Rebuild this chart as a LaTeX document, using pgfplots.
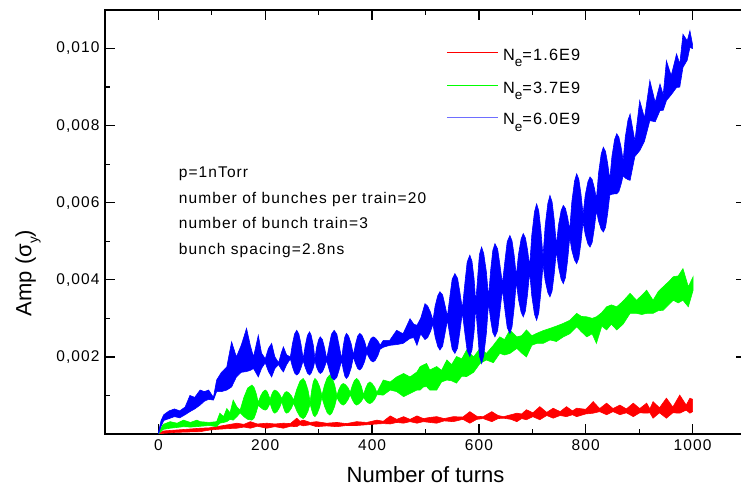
\documentclass[border=0pt]{standalone}
\usepackage{fontspec}
\setmainfont{Liberation Sans}
\newfontfamily\spaced[LetterSpace=7]{Liberation Sans}
\usepackage{pgfplots}
\usepackage{pgfplotstable}
\usepgfplotslibrary{fillbetween}
\pgfplotsset{compat=1.18}

\definecolor{cred}{RGB}{255,0,0}
\definecolor{cgreen}{RGB}{0,255,0}
\definecolor{cblue}{RGB}{0,0,255}
\definecolor{cbluelight}{RGB}{110,110,255}

% lowered subscript as in the original plotting program
\newcommand\lsub[2]{\raisebox{-#2}{\fontsize{13.5}{14}\selectfont #1}}

% envelopes of the oscillation amplitude, in units of 1e-3 sigma_y
% columns: turn, lower edge, upper edge
\pgfplotstableread{
t lo hi
0 0.0 0.02
10 0.02 0.08
30 0.04 0.10
50 0.05 0.12
78 0.06 0.15
95 0.10 0.16
109 0.12 0.19
130 0.14 0.24
147 0.15 0.28
160 0.18 0.25
172 0.15 0.32
185 0.20 0.26
203 0.15 0.28
218 0.19 0.26
234 0.15 0.28
247 0.20 0.27
259 0.19 0.41
265 0.24 0.33
271 0.21 0.36
284 0.24 0.30
296 0.19 0.32
315 0.21 0.28
334 0.19 0.30
352 0.22 0.27
371 0.22 0.32
390 0.24 0.30
409 0.26 0.36
421 0.27 0.33
434 0.26 0.47
446 0.30 0.38
459 0.28 0.45
471 0.32 0.38
484 0.28 0.47
496 0.32 0.40
508 0.30 0.43
521 0.28 0.45
535 0.34 0.40
552 0.32 0.45
570 0.38 0.44
583 0.28 0.58
596 0.38 0.46
608 0.40 0.45
624 0.32 0.58
636 0.40 0.48
646 0.41 0.45
660 0.38 0.50
671 0.32 0.54
680 0.40 0.52
689 0.37 0.63
701 0.45 0.55
714 0.37 0.71
727 0.48 0.56
739 0.41 0.67
752 0.48 0.58
764 0.45 0.71
775 0.50 0.60
783 0.45 0.67
800 0.52 0.64
814 0.54 0.84
826 0.58 0.66
839 0.50 0.80
851 0.58 0.66
864 0.50 0.75
876 0.55 0.65
889 0.45 0.80
901 0.55 0.66
914 0.54 0.80
920 0.55 0.65
926 0.41 0.84
938 0.55 0.68
951 0.41 0.93
963 0.55 0.70
976 0.54 1.01
988 0.62 0.75
995 0.54 0.93
1000 0.58 0.90
}\datalow

\pgfplotstableread{
t lo hi
0 0.0 0.03
9 0.12 0.25
22 0.15 0.32
35 0.17 0.28
47 0.19 0.36
60 0.18 0.30
72 0.19 0.36
78 0.20 0.32
95 0.22 0.30
109 0.19 0.32
115 0.28 0.54
122 0.30 0.45
128 0.32 0.66
134 0.38 0.55
140 0.36 0.88
147 0.45 0.70
153 0.55 0.62
160 0.45 0.95
167 0.38 1.19
175 0.36 1.27
179 0.41 1.21
183 0.56 1.05
187 0.75 0.82
191 0.69 0.98
196 0.64 1.10
200 0.62 1.14
203 0.64 1.11
206 0.71 1.02
209 0.80 0.90
212 0.67 1.02
215 0.57 1.11
218 0.54 1.14
222 0.58 1.11
227 0.69 1.03
231 0.84 0.92
234 0.69 1.01
237 0.58 1.08
240 0.54 1.10
244 0.57 1.07
249 0.67 0.99
253 0.80 0.88
259 0.60 1.16
265 0.45 1.37
271 0.40 1.44
275 0.45 1.36
280 0.59 1.14
284 0.78 0.84
287 0.62 1.14
290 0.49 1.36
293 0.45 1.44
297 0.52 1.38
302 0.70 1.22
306 0.95 1.00
311 0.72 1.27
316 0.55 1.46
321 0.49 1.53
325 0.55 1.46
330 0.72 1.27
334 0.95 1.00
338 0.85 1.16
342 0.78 1.27
346 0.75 1.31
350 0.79 1.28
355 0.89 1.20
359 1.02 1.08
363 0.89 1.26
367 0.79 1.39
371 0.75 1.44
375 0.78 1.39
380 0.85 1.23
384 0.95 1.02
388 0.87 1.19
392 0.81 1.31
396 0.79 1.35
400 0.82 1.31
405 0.90 1.21
409 1.02 1.08
421 1.01 1.40
434 1.14 1.35
446 1.10 1.48
459 0.97 1.57
471 1.05 1.48
484 1.14 1.61
490 1.14 1.75
496 1.22 1.79
502 1.23 1.83
508 1.14 1.66
521 1.14 1.75
530 1.35 1.65
540 1.40 1.92
549 1.38 1.80
558 1.32 2.01
568 1.50 1.95
577 1.49 2.18
590 1.60 2.00
602 1.83 2.22
614 1.92 2.09
627 1.85 2.30
639 2.09 2.52
648 2.05 2.45
658 2.09 2.70
671 2.22 2.52
680 2.10 2.55
689 2.00 2.70
699 2.30 2.55
708 2.35 2.61
720 2.35 2.68
733 2.44 2.74
745 2.40 2.80
758 2.52 2.87
770 2.60 2.95
783 2.78 3.13
792 2.65 3.05
802 2.52 3.04
812 2.60 3.00
820 2.35 3.04
830 2.80 3.15
839 2.70 3.30
848 2.85 3.35
858 2.70 3.30
870 2.85 3.45
883 3.13 3.65
895 3.13 3.47
905 3.10 3.60
914 3.13 3.73
926 3.13 3.47
936 3.20 3.70
945 3.21 3.82
955 3.35 3.95
964 3.47 4.08
973 3.40 4.10
982 3.47 4.29
992 3.30 3.82
1001 3.73 4.08
}\datamid

\pgfplotstableread{
t lo hi
0 0.00 0.05
5 0.20 0.35
10 0.35 0.50
20 0.40 0.60
30 0.45 0.65
40 0.42 0.60
50 0.50 0.70
59 0.58 1.00
68 0.65 0.95
78 0.75 1.14
86 0.85 1.10
94 0.90 1.14
103 0.88 0.95
109 1.10 1.40
118 1.10 1.60
128 1.14 1.74
137 1.22 2.39
146 1.48 2.00
155 1.60 2.30
165 1.62 2.74
172 1.65 2.30
178 1.70 2.00
187 1.48 2.56
193 1.70 2.10
200 1.85 1.95
206 1.62 2.22
212 1.48 2.35
218 1.70 2.00
225 1.80 1.85
230 1.68 2.10
234 1.61 2.26
240 1.80 2.05
247 1.95 2.00
251 1.74 2.35
255 1.58 2.60
259 1.53 2.69
263 1.58 2.59
267 1.72 2.32
271 1.90 1.95
275 1.72 2.30
279 1.58 2.56
283 1.53 2.65
286 1.58 2.56
290 1.72 2.30
293 1.90 1.95
296 1.74 2.24
300 1.61 2.45
303 1.57 2.52
307 1.61 2.45
311 1.74 2.24
315 1.90 1.95
320 1.65 2.32
324 1.47 2.59
329 1.40 2.69
334 1.47 2.59
338 1.65 2.32
343 1.90 1.95
346 1.67 2.28
349 1.50 2.52
352 1.44 2.61
356 1.51 2.54
361 1.72 2.33
365 2.00 2.05
369 1.83 2.33
373 1.70 2.54
377 1.66 2.61
381 1.72 2.56
386 1.88 2.40
390 2.10 2.20
394 1.99 2.36
398 1.90 2.48
402 1.87 2.52
406 1.91 2.49
411 2.04 2.41
415 2.20 2.30
421 2.25 2.43
433 2.30 2.43
446 2.32 2.69
458 2.35 2.60
471 2.48 2.99
478 2.50 2.85
484 2.30 2.82
491 2.60 3.00
499 2.45 3.38
504 2.50 3.32
509 2.65 3.17
514 2.85 2.95
518 2.52 3.32
523 2.27 3.59
527 2.18 3.69
532 2.28 3.61
536 2.57 3.37
541 2.95 3.05
546 2.52 3.61
550 2.20 4.02
555 2.09 4.16
560 2.23 4.04
564 2.62 3.71
569 3.15 3.25
574 2.58 3.95
578 2.16 4.46
583 2.01 4.64
587 2.18 4.48
591 2.66 4.02
594 3.30 3.40
598 2.57 4.13
601 2.02 4.66
605 1.83 4.85
609 2.03 4.68
614 2.62 4.20
618 3.40 3.55
622 2.96 4.25
626 2.63 4.76
630 2.52 4.94
635 2.68 4.80
639 3.14 4.42
644 3.75 3.90
649 3.18 4.53
653 2.76 4.99
658 2.61 5.15
662 2.78 5.01
666 3.28 4.63
670 3.95 4.10
674 3.50 4.65
679 3.16 5.06
683 3.04 5.20
687 3.19 5.09
691 3.62 4.78
695 4.20 4.35
699 3.58 5.16
704 3.11 5.76
708 2.95 5.97
712 3.14 5.79
716 3.68 5.29
720 4.40 4.60
724 3.98 5.40
729 3.67 5.98
733 3.56 6.19
737 3.71 6.02
741 4.16 5.55
745 4.75 4.90
749 4.33 5.42
754 4.01 5.80
758 3.90 5.93
762 4.06 5.85
766 4.50 5.62
770 5.10 5.30
774 4.76 6.03
779 4.51 6.56
783 4.42 6.75
787 4.56 6.61
791 4.96 6.23
795 5.50 5.70
799 5.18 6.19
804 4.93 6.54
808 4.85 6.67
812 4.97 6.60
816 5.33 6.39
820 5.80 6.10
824 5.52 6.77
829 5.31 7.27
833 5.24 7.44
837 5.36 7.33
841 5.72 7.02
845 6.20 6.60
849 6.22 7.20
854 6.23 7.64
858 6.23 7.79
862 6.29 7.70
866 6.47 7.45
870 6.70 7.10
874 6.64 7.70
879 6.60 8.14
883 6.58 8.30
892 7.20 7.60
901 7.35 8.65
910 7.60 8.20
920 8.13 9.17
930 8.10 8.60
939 8.39 9.08
945 8.40 8.80
951 8.65 9.68
960 8.80 9.30
970 8.99 9.86
976 9.00 9.60
982 9.51 10.37
990 9.70 10.20
995 10.03 10.46
1000 10.00 10.10
}\datahigh

\begin{document}
\begin{tikzpicture}
\begin{axis}[
  scale only axis,
  width=641pt, height=424pt,
  xmin=-100, xmax=1100,
  ymin=0, ymax=0.011,
  axis line style={line width=1.4pt},
  every tick/.style={line width=1.2pt, black},
  tick align=inside,
  major tick length=10pt,
  minor tick length=5pt,
  xtick={0,200,...,1000},
  minor xtick={-100,100,300,500,700,900,1100},
  ytick={0.002,0.004,0.006,0.008,0.010},
  minor ytick={0.001,0.003,0.005,0.007,0.009},
  scaled y ticks=false,
  yticklabel style={/pgf/number format/fixed, /pgf/number format/fixed zerofill,
    /pgf/number format/precision=3, /pgf/number format/use comma, /tikz/xshift=-2pt},
  xticklabel style={/pgf/number format/1000 sep={}, /tikz/yshift=-2pt},
  /pgf/number format/assume math mode=true,
  tick label style={font=\spaced\fontsize{15.5}{18}\selectfont},
  xlabel={Number of turns},
  ylabel={Amp (σ\lsub{y}{0.3em})},
  label style={font=\fontsize{22}{26}\selectfont},
  xlabel style={at={(axis description cs:0.5,-0.097)}, anchor=center},
  ylabel style={at={(axis description cs:-0.12,0.38)}, anchor=center},
]
% corners of the plotting area
\coordinate (bl) at (rel axis cs:0,0);
\coordinate (tr) at (rel axis cs:1,1);

% N_e = 1.6E9
\addplot[name path=lowU, draw=none, forget plot] table[x=t, y expr=\thisrow{hi}*0.001] {\datalow};
\addplot[name path=lowL, draw=none, forget plot] table[x=t, y expr=\thisrow{lo}*0.001] {\datalow};
\addplot[fill=cred, draw=cred, line width=0.6pt, forget plot] fill between[of=lowU and lowL];

% N_e = 3.7E9
\addplot[name path=midU, draw=none, forget plot] table[x=t, y expr=\thisrow{hi}*0.001] {\datamid};
\addplot[name path=midL, draw=none, forget plot] table[x=t, y expr=\thisrow{lo}*0.001] {\datamid};
\addplot[fill=cgreen, draw=cgreen, line width=0.6pt, forget plot] fill between[of=midU and midL];

% N_e = 6.0E9
\addplot[name path=highU, draw=none, forget plot] table[x=t, y expr=\thisrow{hi}*0.001] {\datahigh};
\addplot[name path=highL, draw=none, forget plot] table[x=t, y expr=\thisrow{lo}*0.001] {\datahigh};
\addplot[fill=cblue, draw=cblue, line width=0.6pt, forget plot] fill between[of=highU and highL];

% key for the three electron populations
\draw[cred, line width=1pt] (rel axis cs:0.5335,0.8986) -- (rel axis cs:0.6131,0.8986);
\draw[cgreen, line width=1pt] (rel axis cs:0.5335,0.8208) -- (rel axis cs:0.6131,0.8208);
\draw[cbluelight, line width=1pt] (rel axis cs:0.5335,0.7453) -- (rel axis cs:0.6131,0.7453);
\begin{scope}[every node/.style={anchor=base west, inner sep=0pt,
    font=\spaced\fontsize{16.3}{19}\selectfont}]
\node at (rel axis cs:0.6209,0.882) {N\lsub{e}{0.38em}=1.6E9};
\node at (rel axis cs:0.6209,0.804) {N\lsub{e}{0.38em}=3.7E9};
\node at (rel axis cs:0.6209,0.729) {N\lsub{e}{0.38em}=6.0E9};
\end{scope}

\node[anchor=north west, align=left, inner sep=0pt,
      font=\spaced\fontsize{15.5}{25.8}\selectfont]
  at (axis cs:38,0.00694)
  {p=1nTorr\\number of bunches per train=20\\number of bunch train=3\\bunch spacing=2.8ns};
\end{axis}
\pgfresetboundingbox
\path[use as bounding box] (bl) ++(-105pt,-58pt) rectangle ([shift={(-5pt,10pt)}]tr);
\end{tikzpicture}
\end{document}
